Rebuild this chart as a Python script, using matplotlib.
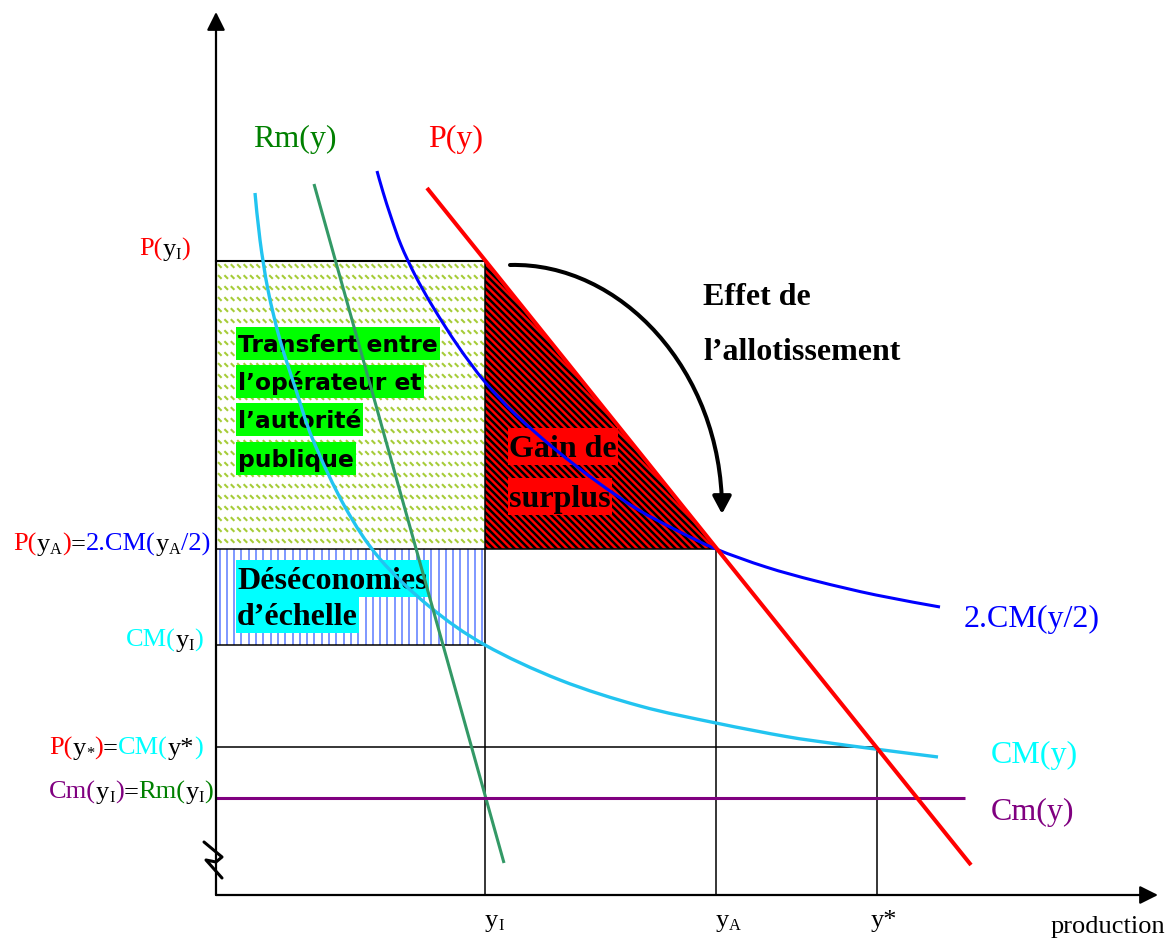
import numpy as np
import matplotlib
matplotlib.use("Agg")
import matplotlib.pyplot as plt
from matplotlib.patches import Polygon, Rectangle, FancyArrowPatch, ArrowStyle, PathPatch
from matplotlib.path import Path
from matplotlib.collections import LineCollection
from matplotlib.font_manager import FontProperties

# ------------------------------------------------------------------ data
# production levels on the horizontal axis
q_names = ["yI", "yA", "y*"]
q_vals = [269, 500, 661]

# price / cost levels on the vertical axis
P_yI = 634
P_yA = 346
CM_yI = 250
P_ystar = 148
Cm_val = 97

# demand P(y)
P_x = [211, 755]
P_y = [707, 30]
# marginal revenue Rm(y)
Rm_x = [98, 288]
Rm_y = [711, 32]
# marginal cost Cm(y)
Cm_x = [0, 749]
Cm_y = [Cm_val, Cm_val]
# average cost CM(y)
CM_x = [39, 44, 52, 64, 80, 97, 129, 164, 214, 269, 344, 424, 500, 570, 614, 659, 722]
CM_y = [702, 655, 605, 555, 505, 455, 388, 336, 288, 250, 215, 189, 172, 158.5, 152, 146, 138]
# 2.CM(y/2)
CM2_x = [161, 167, 175, 185, 199, 217, 242, 269, 300, 340, 380, 421, 460, 500, 550, 600, 660, 724]
CM2_y = [724, 703, 678, 650, 620, 588, 549, 513, 480, 445, 414, 386, 365, 346, 328, 314, 300, 288]

# -------------------------------------------------------------- figure
fig = plt.figure(figsize=(11.7, 9.39), dpi=100)
ax = fig.add_axes([0, 0, 1, 1])
ax.set_xlim(-216, 954)
ax.set_ylim(-44, 895)
ax.axis("off")
renderer = fig.canvas.get_renderer()


def X(px):
    return px - 216


def Y(py):
    return 895 - py


SERIF = "Liberation Serif"
PX = 100 / 72.0
RED = "#ff0000"
BLUE = "#0000ff"
CYAN_T = "#00ffff"
CYAN_L = "#22c4f0"
GREEN_T = "#008000"
GREEN_L = "#339966"
PURPLE = "#800080"

yI, yA, ys = q_vals

# ---------------------------------------------------------------- areas
# transfer rectangle : white with small yellow-green dashes
ax.add_patch(Rectangle((0, P_yA), yI, P_yI - P_yA, facecolor="white",
                       edgecolor="none", zorder=1))
segs = []
row = P_yI - 5
while row > P_yA + 2:
    xx = 2.0
    while xx + 4 < yI:
        segs.append([(xx, row + 1.8), (xx + 3.6, row - 1.8)])
        xx += 6.4
    row -= 11.0
ax.add_collection(LineCollection(segs, colors="#a6cc38", linewidths=1.5, zorder=1.5))

# diseconomies rectangle : blue vertical stripes
ax.add_patch(Rectangle((0, CM_yI), yI, P_yA - CM_yI, facecolor="white",
                       edgecolor="none", zorder=1))
ax.vlines(np.arange(3.5, yI, 7.3), CM_yI, P_yA, colors="#5b7bff",
          linewidth=1.1, zorder=1.5)

# surplus triangle : red with black diagonal stripes
tri = Polygon([(yI, P_yI), (yI, P_yA), (yA, P_yA)], closed=True,
              facecolor=RED, edgecolor="none", zorder=1)
ax.add_patch(tri)
cs = np.arange(yI + P_yA - 5, yI + P_yI + 8, 7.0)
hs = [[(yI - 5, c - yI + 5), (yA + 5, c - yA - 5)] for c in cs]
lc = LineCollection(hs, colors="black", linewidths=1.8, zorder=1.5)
ax.add_collection(lc)
lc.set_clip_path(tri)

# ---------------------------------------------------------- guide lines
thin = dict(color="black", lw=1.1, zorder=2.5, solid_capstyle="butt")
ax.plot([0, yI], [P_yI, P_yI], color="black", lw=1.5, zorder=2.5)
ax.plot([yI, yI], [0, P_yI], **thin)
ax.plot([0, yA], [P_yA, P_yA], **thin)
ax.plot([yA, yA], [0, P_yA], **thin)
ax.plot([0, yI], [CM_yI, CM_yI], **thin)
ax.plot([0, ys], [P_ystar, P_ystar], **thin)
ax.plot([ys, ys], [0, P_ystar], **thin)

# ---------------------------------------------------------------- boxes


def boxed(x, base, s, fp, fc, asc, desc, padx=1.5):
    t = ax.text(x, base, s, fontproperties=fp, ha="left", va="baseline",
                color="black", zorder=4)
    w = t.get_window_extent(renderer).width
    em = fp.get_size_in_points() * PX
    ax.add_patch(Rectangle((x - padx, base - desc * em), w + 2 * padx,
                           (asc + desc) * em, facecolor=fc, edgecolor="none",
                           zorder=3))


fp_sans = FontProperties(family="DejaVu Sans", weight="bold", size=16.8)
for s, b in zip(["Transfert entre", "l\u2019op\u00e9rateur et",
                 "l\u2019autorit\u00e9", "publique"], [352, 390, 428, 467]):
    boxed(X(238), Y(b), s, fp_sans, "#00ff00", 1.07, 0.34, padx=2)

fp_bold = FontProperties(family=SERIF, weight="bold", size=23)
boxed(X(237), Y(589), "D\u00e9s\u00e9conomies", fp_bold, "#00ffff", 0.9, 0.25)
boxed(X(237), Y(625), "d\u2019\u00e9chelle", fp_bold, "#00ffff", 0.9, 0.25)
boxed(X(509), Y(457), "Gain de", fp_bold, RED, 0.9, 0.25)
boxed(X(509), Y(507), "surplus", fp_bold, RED, 0.9, 0.25)

ax.text(X(703), Y(305), "Effet de", fontproperties=fp_bold, ha="left",
        va="baseline", zorder=4)
ax.text(X(703), Y(360), "l\u2019allotissement", fontproperties=fp_bold,
        ha="left", va="baseline", zorder=4)

# --------------------------------------------------------------- curves


def smooth(xs, ys, color, lw, z=5):
    """Draw a smooth (Catmull-Rom / Bezier) curve through the read points."""
    pts = np.column_stack([xs, ys]).astype(float)
    n = len(pts)
    verts = [pts[0]]
    codes = [Path.MOVETO]
    for i in range(n - 1):
        p0 = pts[i - 1] if i > 0 else pts[i]
        p1, p2 = pts[i], pts[i + 1]
        p3 = pts[i + 2] if i + 2 < n else pts[i + 1]
        verts += [p1 + (p2 - p0) / 6.0, p2 - (p3 - p1) / 6.0, p2]
        codes += [Path.CURVE4] * 3
    ax.add_patch(PathPatch(Path(verts, codes), facecolor="none",
                           edgecolor=color, lw=lw, zorder=z,
                           capstyle="butt"))


smooth(CM_x, CM_y, CYAN_L, 2.4)
smooth(CM2_x, CM2_y, BLUE, 2.2)
ax.plot(Rm_x, Rm_y, color=GREEN_L, lw=2.2, zorder=5, solid_capstyle="butt")
ax.plot(Cm_x, Cm_y, color=PURPLE, lw=2.2, zorder=5, solid_capstyle="butt")
ax.plot(P_x, P_y, color=RED, lw=2.9, zorder=5.5, solid_capstyle="butt")

# ------------------------------------------------------------- arrows
verts = [(X(510), Y(265)), (X(620), Y(262)), (X(722), Y(370)), (X(722), Y(514))]
path = Path(verts, [Path.MOVETO, Path.CURVE4, Path.CURVE4, Path.CURVE4])
ax.add_patch(FancyArrowPatch(path=path,
                             arrowstyle=ArrowStyle("-|>", head_length=10.5, head_width=5.6),
                             mutation_scale=1, lw=2.9, color="black", zorder=6))

ax_style = ArrowStyle("-|>", head_length=11, head_width=5.5)
ax.add_patch(FancyArrowPatch((0, 0), (0, Y(12)), arrowstyle=ax_style,
                             mutation_scale=1, lw=1.6, color="black",
                             shrinkA=0, shrinkB=0, zorder=6))
ax.add_patch(FancyArrowPatch((0, 0), (X(1158), 0), arrowstyle=ax_style,
                             mutation_scale=1, lw=1.6, color="black",
                             shrinkA=0, shrinkB=0, zorder=6))

# axis break mark
ax.plot([X(204), X(222), X(216), X(206), X(222)],
        [Y(842), Y(857), Y(862), Y(860), Y(878)],
        color="black", lw=2.2, zorder=7, solid_joinstyle="round",
        solid_capstyle="round")

# --------------------------------------------------------------- labels


def rich(pieces, x, base, size, align="left"):
    arts = []
    cx = 0.0
    for s, col, sub in pieces:
        fs = size * 0.62 if sub else size
        dy = -0.12 * size * PX if sub else 0.0
        t = ax.text(cx, base + dy, s, color=col, fontsize=fs, family=SERIF,
                    ha="left", va="baseline", zorder=7)
        arts.append((t, cx))
        cx += t.get_window_extent(renderer).width
    x0 = x - cx if align == "right" else x
    for t, off in arts:
        t.set_x(x0 + off)


K = "black"
LAB = 19
rich([("P(", RED, 0), ("y", K, 0), ("I", K, 1), (")", RED, 0)],
     X(190), Y(256), LAB, "right")
rich([("P(", RED, 0), ("y", K, 0), ("A", K, 1), (")", RED, 0), ("=", K, 0),
      ("2.CM(", BLUE, 0), ("y", K, 0), ("A", K, 1), ("/2)", BLUE, 0)],
     X(210), Y(551), LAB, "right")
rich([("CM(", CYAN_T, 0), ("y", K, 0), ("I", K, 1), (")", CYAN_T, 0)],
     X(203), Y(647), LAB, "right")
rich([("P(", RED, 0), ("y", K, 0), ("*", K, 1), (")", RED, 0), ("=", K, 0),
      ("CM(", CYAN_T, 0), ("y*", K, 0), (")", CYAN_T, 0)],
     X(203), Y(755), LAB, "right")
rich([("Cm(", PURPLE, 0), ("y", K, 0), ("I", K, 1), (")", PURPLE, 0), ("=", K, 0),
      ("Rm(", GREEN_T, 0), ("y", K, 0), ("I", K, 1), (")", GREEN_T, 0)],
     X(213), Y(799), LAB, "right")

CUR = 23
rich([("Rm(y)", GREEN_T, 0)], X(253), Y(147), CUR)
rich([("P(y)", RED, 0)], X(428), Y(147), CUR)
rich([("2.CM(y/2)", BLUE, 0)], X(964), Y(627), CUR)
rich([("CM(y)", CYAN_T, 0)], X(991), Y(763), CUR)
rich([("Cm(y)", PURPLE, 0)], X(991), Y(820), CUR)

rich([("y", K, 0), ("I", K, 1)], yI, Y(927), LAB)
rich([("y", K, 0), ("A", K, 1)], yA, Y(927), LAB)
rich([("y*", K, 0)], X(871), Y(927), LAB)
rich([("production", K, 0)], X(1051), Y(933), LAB)

fig.savefig("out.png", dpi=100)
